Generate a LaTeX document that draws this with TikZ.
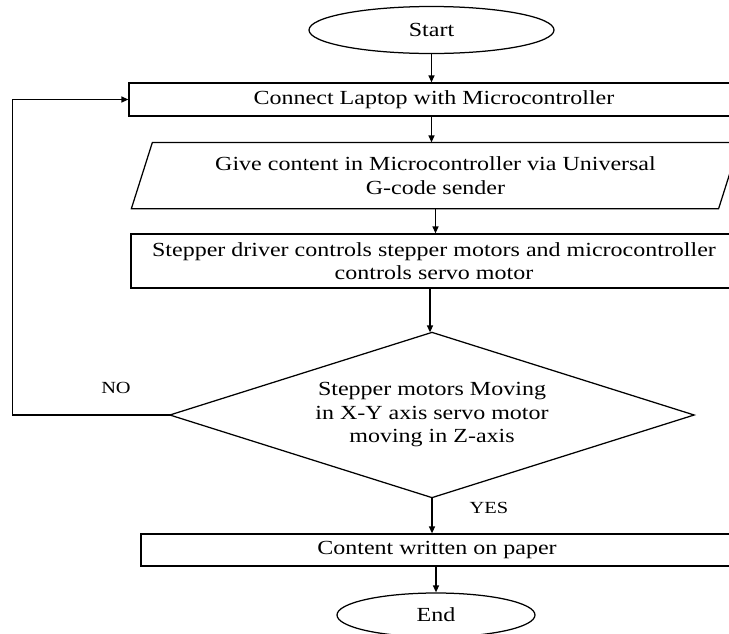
\documentclass[tikz,border=0pt]{standalone}
\usepackage{fontspec}
\setmainfont{Liberation Serif}[FakeStretch=1.2]
\usetikzlibrary{arrows.meta,shapes.geometric,calc}
\begin{document}
\begin{tikzpicture}[x=1pt,y=-1pt,
  line width=1.25pt,
  txt/.style={font=\fontsize{20}{23.5}\selectfont, align=center, inner sep=0pt},
  boxnode/.style={txt, draw, rectangle},
  ovalnode/.style={txt, draw, ellipse},
  plainnode/.style={txt, rectangle},
  lbl/.style={font=\fontsize{17}{20}\selectfont, inner sep=0pt},
  arr/.style={-{Triangle[length=7pt,width=6pt]}}]
\useasboundingbox (0,0) rectangle (729,633);
\clip (0,0) rectangle (729,633);

\node[ovalnode, minimum width=245pt, minimum height=47pt] (start) at (431.5,30) {Start};
\node[boxnode, minimum width=610pt, minimum height=33pt] (connect) at (434,99.5) {Connect Laptop with Microcontroller};
\node[plainnode, minimum width=586pt, minimum height=65pt] (para) at (435.5,175.5) {Give content in Microcontroller via Universal\\G-code sender};
\draw ($(para.south west)+(-10.5,0)$) -- ($(para.north west)+(10.5,0)$) -- ($(para.north east)+(10.5,0)$) -- ($(para.south east)+(-10.5,0)$) -- cycle;
\node[boxnode, minimum width=606pt, minimum height=54pt] (stepper) at (434,261) {Stepper driver controls stepper motors and microcontroller\\controls servo motor};
\node[plainnode, minimum width=523pt, minimum height=164pt] (dec) at (432,415) {Stepper motors Moving\\in X-Y axis servo motor\\moving in Z-axis};
\draw (dec.north) -- (dec.east) -- (dec.south) -- (dec.west) -- cycle;
\node[boxnode, minimum width=592pt, minimum height=32pt] (content) at (437,550) {Content written on paper};
\node[ovalnode, minimum width=198pt, minimum height=44pt] (end) at (436,615) {End};

\coordinate (loopbot) at (12.5,415);
\coordinate (looptop) at (12.5,99.5);

\draw[arr] (start.south) -- (start.south |- connect.north);
\draw[arr] (start.south |- connect.south) -- (start.south |- para.north);
\draw[arr] (para.south) -- (para.south |- stepper.north);
\draw[arr] ([xshift=-4pt]stepper.south) -- ([xshift=-4pt]stepper.south |- dec.north);
\draw[arr] (dec.south) -- (dec.south |- content.north);
\draw[arr] ([xshift=-1pt]content.south) -- ([xshift=-1pt]content.south |- end.north);
\draw[arr] (dec.west) -- (loopbot) -- (looptop) -- (connect.west);

\node[lbl] (no) at (116,388) {NO};
\node[lbl] (yes) at (489,508) {YES};
\end{tikzpicture}
\end{document}
